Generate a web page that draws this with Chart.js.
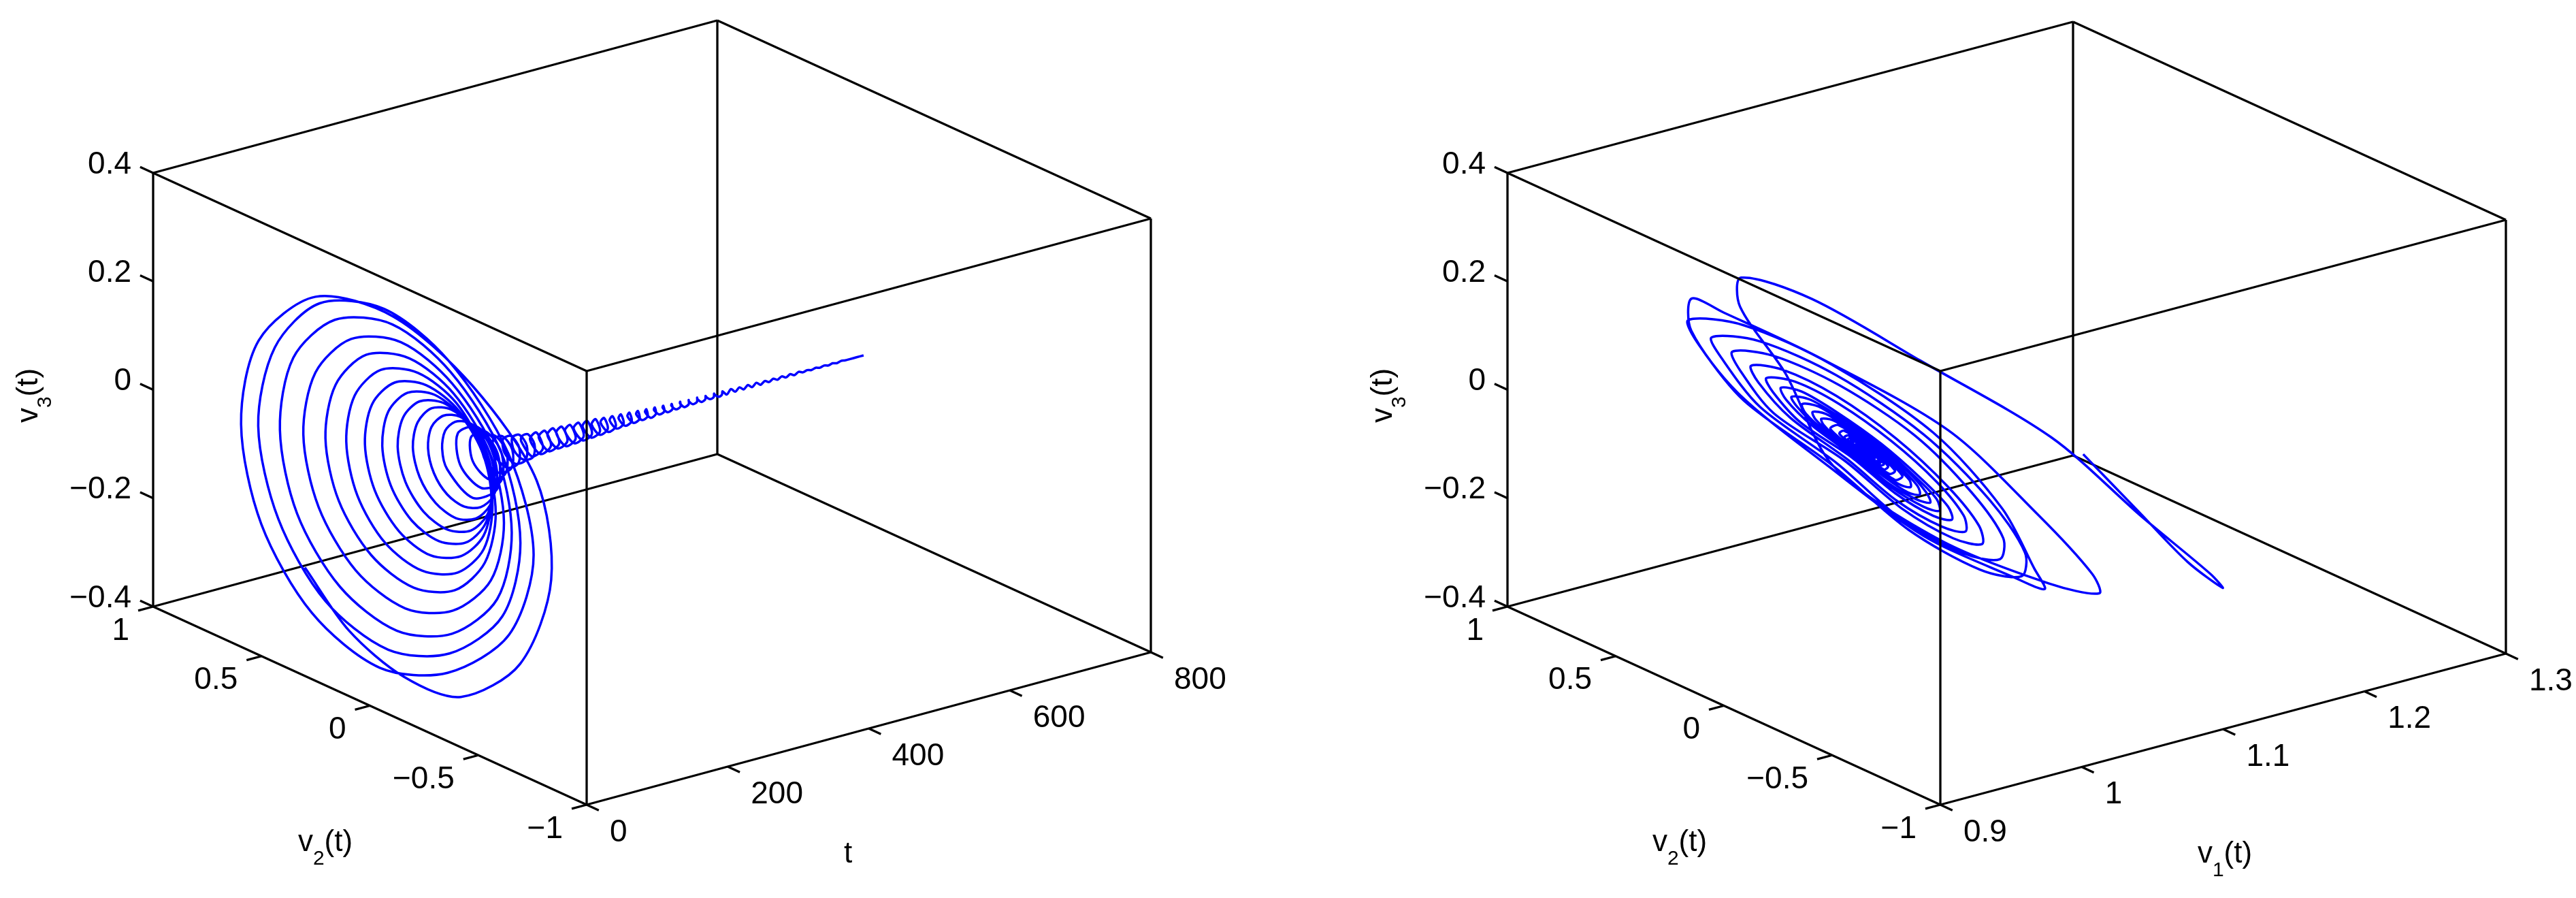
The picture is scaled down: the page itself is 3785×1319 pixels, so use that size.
<!DOCTYPE html>
<html>
<head>
<meta charset="utf-8">
<script src="https://cdn.jsdelivr.net/npm/chart.js@4"></script>
<style>
html, body { margin: 0; padding: 0; background: #fff; }
canvas { position: absolute; top: 0; }
#left-plot { left: 0; }
#right-plot { left: 1892px; }
</style>
</head>
<body>
<canvas id="left-plot" width="1892" height="1319"></canvas>
<canvas id="right-plot" width="1893" height="1319"></canvas>
<script>
// Axis ticks
const tTicks = [0, 200, 400, 600, 800];
const v1Ticks = [0.9, 1, 1.1, 1.2, 1.3];
const v2Ticks = [-1, -0.5, 0, 0.5, 1];
const v3Ticks = [-0.4, -0.2, 0, 0.2, 0.4];
const tTickLabels = ['0', '200', '400', '600', '800'];
const v1TickLabels = ['0.9', '1', '1.1', '1.2', '1.3'];
const v2TickLabels = ['\u22121', '\u22120.5', '0', '0.5', '1'];
const v3TickLabels = ['\u22120.4', '\u22120.2', '0', '0.2', '0.4'];

// Trajectory
const tValues = [
  0,1,2,3,4,5,6,7,8,9,10,11,12,13,14,15,16,17,18,19,20,21,22,23,
  24,25,26,27,28,29,30,31,32,33,34,35,
  36,37,38,39,40,41,42,43,44,45,46,47,
  48,49,50,51,52,53,54,55,56,57,58,59,
  60,61,62,63,64,65,66,67,68,69,70,71,
  72,73,74,75,76,77,78,79,80,81,82,83,
  84,85,86,87,88,89,90,91,92,93,94,95,
  96,97,98,99,100,101,102,103,104,105,106,107,
  108,109,110,111,112,113,114,115,116,117,118,119,
  120,121,122,123,124,125,126,127,128,129,130,131,
  132,133,134,135,136,137,138,139,140,141,142,143,
  144,146,148,150,152,154,156,158,160,162,164,166,168,170,172,174,176,178,
  180,182,184,186,188,190,192,194,196,198,200,202,204,206,208,210,212,214,216,218,220,222,224,226,
  227,230,233,236,239,242,245,248,251,254,257,260,263,266,269,272,275,278,281,284,287,290,293,296,299,302,305,308,311,314,317,320,323,326,329,332,335,338,341,344,347,350,
  353,356,359,362,365,368,371,374,377,380,383,386,389,392,395,398,401,404,407,410,413,416,419,422,425,428,431,434,437,440,443,446,449,452,455,458,461,464,467,470,473,476,479,482,485,488,491,494,497,
  500,506,512,518,524,530,536,542,548,554,560,566,572,578,584,590,596,602,608,614,620,626,632,638,644,650,656,662,668,674,680,690,700
];
const v1Values = [
  1.2,1.21,1.205,1.19,1.14,1.07,1.017,0.97,0.95,0.955,0.995,1.04,1.06,1.1,1.13,1.118,1.07,1.015,0.97,0.92,0.9,0.923,0.955,1,
  1.051,1.085,1.105,1.084,1.04,1.005,0.97,0.935,0.914,0.916,0.953,0.995,
  1.046,1.07,1.081,1.072,1.043,1.008,0.973,0.943,0.925,0.927,0.96,0.996,
  1.04,1.06,1.07,1.062,1.038,1.007,0.977,0.95,0.935,0.937,0.965,0.996,
  1.037,1.055,1.062,1.054,1.031,1.002,0.974,0.952,0.942,0.946,0.97,0.999,
  1.032,1.048,1.054,1.046,1.027,1.002,0.977,0.958,0.95,0.953,0.974,0.999,
  1.029,1.043,1.048,1.04,1.022,0.998,0.976,0.96,0.955,0.96,0.978,1.001,
  1.025,1.037,1.041,1.034,1.019,0.998,0.979,0.965,0.961,0.965,0.981,1.001,
  1.022,1.032,1.036,1.03,1.016,0.999,0.982,0.97,0.967,0.97,0.983,1.001,
  1.019,1.028,1.03,1.025,1.014,0.999,0.985,0.975,0.972,0.975,0.986,1.001,
  1.015,1.023,1.025,1.021,1.012,0.999,0.988,0.979,0.977,0.979,0.988,1,
  1.013,1.021,1.01,0.99,0.981,0.99,1.01,1.017,1.008,0.992,0.985,0.993,1.008,1.013,1.006,0.994,0.988,0.994,
  1.007,1.011,1.005,0.995,0.99,0.995,1.006,1.009,1.004,0.995,0.991,0.996,1.005,1.008,1.004,0.996,0.992,0.996,1.004,1.007,1.004,0.996,0.993,0.996,
  1,1.006,1,0.994,1,1.006,1,0.994,1,1.006,1,0.994,1,1.006,1,0.994,1,1.005,1,0.995,1,1.005,1,0.995,1,1.005,1,0.995,1,1.005,1,0.995,1,1.004,1,0.996,1,1.004,1,0.996,1,1.004,
  1,0.997,1,1.003,1,0.997,1,1.003,1,0.997,1,1.003,1,0.997,1,1.003,1,0.998,1,1.002,1,0.998,1,1.002,1,0.998,1,1.002,1,0.998,1,1.002,1,0.999,1,1.001,1,0.999,1,1.001,1,0.999,1,1.001,1,0.999,1,1.001,1,
  1,1,1,1,1,1,1,1,1,1,1,1,1,1,1,1,1,1,1,1,1,1,1,1,1,1,1,1,1,1,1,1,1
];
const v2Values = [
  0.3,0.1,-0.15,-0.41,-0.68,-0.82,-0.75,-0.45,-0.08,0.28,0.546,0.63,0.54,0.31,0,-0.31,-0.59,-0.7,-0.58,-0.3,0,0.3,0.51,0.59,
  0.5,0.287,0,-0.28,-0.52,-0.6,-0.51,-0.272,0,0.269,0.464,0.529,
  0.453,0.258,0,-0.252,-0.457,-0.521,-0.445,-0.239,0,0.233,0.401,0.46,
  0.393,0.224,0,-0.217,-0.389,-0.446,-0.38,-0.208,0,0.203,0.347,0.397,
  0.339,0.192,0,-0.187,-0.322,-0.369,-0.314,-0.18,0,0.175,0.298,0.34,
  0.292,0.167,0,-0.162,-0.278,-0.315,-0.27,-0.154,0,0.15,0.257,0.293,
  0.251,0.143,0,-0.139,-0.238,-0.271,-0.232,-0.132,0,0.129,0.221,0.252,
  0.216,0.123,0,-0.12,-0.205,-0.236,-0.202,-0.115,0,0.112,0.191,0.22,
  0.188,0.107,0,-0.104,-0.177,-0.202,-0.172,-0.098,0,0.096,0.164,0.189,
  0.161,0.091,0,-0.088,-0.15,-0.17,-0.145,-0.082,0,0.08,0.139,0.158,
  0.134,0.076,0,-0.072,-0.126,-0.142,-0.12,-0.069,0,0.066,0.115,0.132,
  0.112,0,-0.106,-0.101,0,0.096,0.09,0,-0.085,-0.079,0,0.074,0.071,0,-0.066,-0.063,0,0.058,
  0.057,0,-0.054,-0.052,0,0.049,0.048,0,-0.046,-0.045,0,0.043,0.043,0,-0.041,-0.041,0,0.04,0.038,0,-0.037,-0.037,0,0.035,
  0.04,0,-0.04,0,0.039,0,-0.038,0,0.038,0,-0.037,0,0.037,0,-0.036,0,0.035,0,-0.035,0,0.034,0,-0.033,0,0.033,0,-0.032,0,0.031,0,-0.03,0,0.028,0,-0.027,0,0.026,0,-0.025,0,0.023,0,
  -0.022,0,0.021,0,-0.02,0,0.019,0,-0.018,0,0.018,0,-0.016,0,0.016,0,-0.015,0,0.014,0,-0.014,0,0.013,0,-0.013,0,0.012,0,-0.011,0,0.011,0,-0.01,0,0.009,0,-0.009,0,0.009,0,-0.008,0,0.008,0,-0.008,0,0.008,0,-0.007,
  0,0,0,0,0,0,0,0,0,0,0,0,0,0,0,0,0,0,0,0,0,0,0,0,0,0,0,0,0,0,0,0,0
];
const v3Values = [
  -0.2,-0.28,-0.32,-0.31,-0.2,-0.02,0.15,0.27,0.33,0.3,0.17,0,-0.168,-0.29,-0.335,-0.288,-0.167,0,0.165,0.285,0.325,0.28,0.16,0,
  -0.156,-0.268,-0.306,-0.262,-0.15,0,0.148,0.254,0.292,0.251,0.145,0,
  -0.141,-0.241,-0.275,-0.235,-0.134,0,0.131,0.223,0.255,0.218,0.125,0,
  -0.122,-0.209,-0.238,-0.203,-0.116,0,0.114,0.194,0.221,0.19,0.108,0,
  -0.105,-0.179,-0.204,-0.175,-0.1,0,0.098,0.168,0.19,0.163,0.093,0,
  -0.091,-0.156,-0.177,-0.151,-0.087,0,0.084,0.144,0.163,0.14,0.08,0,
  -0.078,-0.134,-0.153,-0.129,-0.074,0,0.072,0.123,0.141,0.121,0.069,0,
  -0.067,-0.115,-0.131,-0.112,-0.064,0,0.063,0.107,0.122,0.104,0.06,0,
  -0.059,-0.1,-0.114,-0.097,-0.055,0,0.054,0.091,0.105,0.09,0.051,0,
  -0.05,-0.085,-0.097,-0.082,-0.047,0,0.045,0.076,0.088,0.075,0.043,0,
  -0.042,-0.071,-0.08,-0.068,-0.039,0,0.037,0.065,0.073,0.062,0.036,0,
  -0.035,-0.068,-0.033,0.031,0.061,0.03,-0.028,-0.054,-0.026,0.025,0.048,0.023,-0.022,-0.043,-0.02,0.02,0.037,0.018,
  -0.018,-0.034,-0.017,0.016,0.031,0.015,-0.015,-0.029,-0.014,0.014,0.027,0.013,-0.013,-0.026,-0.013,0.013,0.025,0.012,-0.012,-0.023,-0.012,0.011,0.022,0.011,
  0,-0.021,0,0.021,0,-0.021,0,0.02,0,-0.02,0,0.02,0,-0.019,0,0.019,0,-0.019,0,0.018,0,-0.018,0,0.018,0,-0.017,0,0.017,0,-0.016,0,0.016,0,-0.015,0,0.014,0,-0.014,0,0.013,0,-0.012,
  0,0.012,0,-0.011,0,0.011,0,-0.01,0,0.01,0,-0.009,0,0.009,0,-0.009,0,0.008,0,-0.007,0,0.007,0,-0.007,0,0.006,0,-0.006,0,0.006,0,-0.006,0,0.005,0,-0.005,0,0.005,0,-0.005,0,0.004,0,-0.004,0,0.004,0,-0.004,0,
  0.004,-0.004,0.004,-0.003,0.003,-0.003,0.003,-0.003,0.003,-0.003,0.002,-0.002,0.002,-0.002,0.002,-0.002,0.002,-0.002,0.002,-0.001,0.001,-0.001,0.001,-0.001,0.001,-0.001,0.001,-0.001,0.001,0,0,0,0
];

const BLUE = '#0000ff';
const FONT = '46px "Liberation Sans", Arial, sans-serif';
const TITLE_FONT = '44px "Liberation Sans", Arial, sans-serif';
const SUB_FONT = '30px "Liberation Sans", Arial, sans-serif';

// Box edges in unit coordinates [u, w, h]; the front ones are drawn over the curve
const frontEdges = [
  [[0, 0, 0], [0, 0, 1]], [[0, 0, 1], [0, 1, 1]], [[0, 0, 1], [1, 0, 1]]
];
const backEdges = [
  [[0, 0, 0], [1, 0, 0]], [[0, 0, 0], [0, 1, 0]], [[1, 1, 0], [1, 0, 0]], [[1, 1, 0], [0, 1, 0]],
  [[1, 0, 0], [1, 0, 1]], [[0, 1, 0], [0, 1, 1]], [[1, 1, 0], [1, 1, 1]],
  [[1, 1, 1], [1, 0, 1]], [[1, 1, 1], [0, 1, 1]]
];

function norm(value, ticks) {
  return (value - ticks[0]) / (ticks[ticks.length - 1] - ticks[0]);
}

// Draws one "v_n(t)" style title centred on (x, y)
function drawTitle(ctx, main, sub, rest, x, y, rotated) {
  ctx.save();
  ctx.translate(x, y);
  if (rotated) ctx.rotate(-Math.PI / 2);
  ctx.textAlign = 'left';
  ctx.textBaseline = 'alphabetic';
  ctx.font = TITLE_FONT;
  const w1 = ctx.measureText(main).width;
  const w3 = ctx.measureText(rest).width;
  ctx.font = SUB_FONT;
  const w2 = ctx.measureText(sub).width;
  let px = -(w1 + w2 + w3) / 2;
  ctx.font = TITLE_FONT;
  ctx.fillText(main, px, 10);
  px += w1;
  ctx.font = SUB_FONT;
  ctx.fillText(sub, px, 30);
  px += w2;
  ctx.font = TITLE_FONT;
  ctx.fillText(rest, px, 10);
  ctx.restore();
}

function buildPanel(canvasId, cfg) {
  const project = function(u, w, h) {
    return {
      x: cfg.ux * u - cfg.wx * w,
      y: cfg.uy * u + cfg.wy * w + cfg.hy * h
    };
  };
  const edgeDataset = function(edge) {
    return {
      data: edge.map(p => project(p[0], p[1], p[2])),
      borderColor: '#000',
      borderWidth: 3.3,
      pointRadius: 0,
      showLine: true,
      tension: 0
    };
  };

  // Curve from the value arrays
  const curve = cfg.xValues.map((x, i) =>
    project(norm(x, cfg.xTicks), norm(v2Values[i], v2Ticks), norm(v3Values[i], v3Ticks)));

  // Tick marks
  const tickSegments = [];
  cfg.xTicks.forEach(v => {
    const u = norm(v, cfg.xTicks);
    tickSegments.push([project(u, 0, 0), project(u, -0.028, 0)]);
  });
  v2Ticks.forEach(v => {
    const w = norm(v, v2Ticks);
    tickSegments.push([project(0, w, 0), project(-0.0265, w, 0)]);
  });
  v3Ticks.forEach(v => {
    const h = norm(v, v3Ticks);
    tickSegments.push([project(0, 1, h), project(0, 1.03, h)]);
  });

  const datasets = [];
  frontEdges.forEach(e => datasets.push(edgeDataset(e)));
  datasets.push({
    data: curve,
    borderColor: BLUE,
    borderWidth: 3.5,
    pointRadius: 0,
    showLine: true,
    tension: cfg.tension,
    borderJoinStyle: 'round'
  });
  backEdges.forEach(e => datasets.push(edgeDataset(e)));
  tickSegments.forEach(seg => datasets.push({
    data: seg,
    borderColor: '#000',
    borderWidth: 3.3,
    pointRadius: 0,
    showLine: true,
    tension: 0
  }));

  // Tick labels and titles
  const labelPlugin = {
    id: 'axisLabels',
    afterDraw: function(chart) {
      const ctx = chart.ctx;
      const xs = chart.scales.x;
      const ys = chart.scales.y;
      const place = function(p) {
        return { x: xs.getPixelForValue(p.x), y: ys.getPixelForValue(p.y) };
      };
      ctx.save();
      ctx.fillStyle = '#000';
      ctx.font = FONT;
      ctx.textBaseline = 'middle';

      ctx.textAlign = 'left';
      cfg.xTicks.forEach((v, i) => {
        const p = place(project(norm(v, cfg.xTicks), 0, 0));
        ctx.fillText(cfg.xLabels[i], p.x + 34, p.y + 41);
      });
      ctx.textAlign = 'right';
      v2Ticks.forEach((v, i) => {
        const p = place(project(0, norm(v, v2Ticks), 0));
        ctx.fillText(v2TickLabels[i], p.x - 35, p.y + 36);
      });
      v3Ticks.forEach((v, i) => {
        const p = place(project(0, 1, norm(v, v3Ticks)));
        ctx.fillText(v3TickLabels[i], p.x - 32, p.y - 12);
      });

      drawTitle(ctx, 'v', '2', '(t)', cfg.v2Title[0], cfg.v2Title[1], false);
      drawTitle(ctx, 'v', '3', '(t)', cfg.v3Title[0], cfg.v3Title[1], true);
      if (cfg.xTitleSub) {
        drawTitle(ctx, 'v', cfg.xTitleSub, '(t)', cfg.xTitle[0], cfg.xTitle[1], false);
      } else {
        drawTitle(ctx, 't', '', '', cfg.xTitle[0], cfg.xTitle[1], false);
      }
      ctx.restore();
    }
  };

  return new Chart(document.getElementById(canvasId), {
    type: 'scatter',
    data: { datasets: datasets },
    plugins: [labelPlugin],
    options: {
      responsive: false,
      animation: false,
      layout: { padding: 0 },
      plugins: { legend: { display: false }, tooltip: { enabled: false } },
      scales: {
        x: { type: 'linear', display: false, min: cfg.xMin, max: cfg.xMax },
        y: { type: 'linear', display: false, min: -137, max: 1182 }
      }
    }
  });
}

document.addEventListener('DOMContentLoaded', function() {
  buildPanel('left-plot', {
    xValues: tValues, xTicks: tTicks, xLabels: tTickLabels,
    ux: 829, uy: 224, wx: 637, wy: 291, hy: 637, tension: 0.3,
    xMin: -862, xMax: 1030,
    v2Title: [478, 1240], v3Title: [45, 581], xTitle: [1246, 1257], xTitleSub: ''
  });
  buildPanel('right-plot', {
    xValues: v1Values, xTicks: v1Ticks, xLabels: v1TickLabels,
    ux: 831, uy: 222, wx: 636, wy: 291, hy: 637, tension: 0.3,
    xMin: -959, xMax: 934,
    v2Title: [576, 1240], v3Title: [143, 581], xTitle: [1377, 1257], xTitleSub: '1'
  });
});
</script>
</body>
</html>
